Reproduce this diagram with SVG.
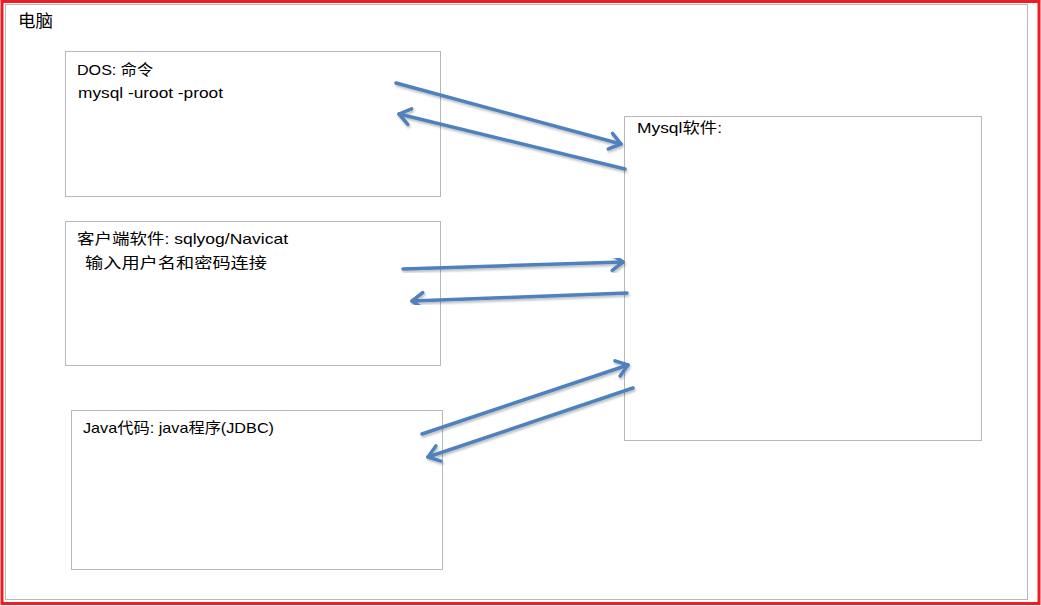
<svg xmlns="http://www.w3.org/2000/svg" width="1041" height="606" viewBox="0 0 1041 606">
<defs>
<style>
.box{fill:#fff;stroke:#b8b8b8;stroke-width:1}
.t{font-family:"Liberation Sans","Noto Sans CJK SC",sans-serif;font-size:15px;fill:#000}
.arr{stroke:#4f81bd;stroke-width:3.5;fill:none;stroke-linecap:round;marker-end:url(#ah);filter:url(#sh)}
</style>
<marker id="ah" markerUnits="userSpaceOnUse" viewBox="-16 -12 20 24" refX="0" refY="0" markerWidth="20" markerHeight="24" orient="auto">
<path d="M-11,-8 L0,0 L-11,8" fill="none" stroke="#4f81bd" stroke-width="3.5" stroke-linecap="round" stroke-linejoin="round"/>
</marker>
<filter id="sh" x="-10%" y="-50%" width="120%" height="200%">
<feDropShadow dx="1" dy="2" stdDeviation="1.2" flood-color="#000" flood-opacity="0.25"/>
</filter>
</defs>
<rect x="0" y="0" width="1041" height="606" fill="#fff"/>
<rect x="2" y="1.5" width="1037" height="602" fill="none" stroke="#ee1c25" stroke-width="3"/>
<rect x="5.5" y="4.5" width="1022" height="595" fill="none" stroke="#b8b8b8" stroke-width="1"/>
<text class="t" x="18" y="27" style="font-size:17px" textLength="35" lengthAdjust="spacingAndGlyphs">电脑</text>
<g id="dos">
<rect class="box" x="65.5" y="51.5" width="375" height="145"/>
<text class="t" x="77" y="75" textLength="76" lengthAdjust="spacingAndGlyphs">DOS: 命令</text>
<text class="t" x="78" y="98" textLength="145" lengthAdjust="spacingAndGlyphs">mysql -uroot -proot</text>
</g>
<g id="client">
<rect class="box" x="65.5" y="221.5" width="375" height="144"/>
<text class="t" x="77" y="244" textLength="211" lengthAdjust="spacingAndGlyphs">客户端软件: sqlyog/Navicat</text>
<text class="t" x="85" y="268" textLength="182" lengthAdjust="spacingAndGlyphs">输入用户名和密码连接</text>
</g>
<g id="java">
<rect class="box" x="71.5" y="410.5" width="371" height="159"/>
<text class="t" x="83" y="433" textLength="191" lengthAdjust="spacingAndGlyphs">Java代码: java程序(JDBC)</text>
</g>
<g id="mysql">
<rect class="box" x="624.5" y="116.5" width="357" height="324"/>
<text class="t" x="637" y="133" textLength="85" lengthAdjust="spacingAndGlyphs">Mysql软件:</text>
</g>
<g id="connectors">
<line class="arr" x1="396" y1="83" x2="621" y2="144"/>
<line class="arr" x1="625" y1="169" x2="399" y2="114"/>
<line class="arr" x1="403" y1="269" x2="623" y2="262"/>
<line class="arr" x1="627" y1="293" x2="412" y2="301"/>
<line class="arr" x1="422" y1="434" x2="628" y2="365"/>
<line class="arr" x1="633" y1="388" x2="428" y2="457"/>
</g>
</svg>
